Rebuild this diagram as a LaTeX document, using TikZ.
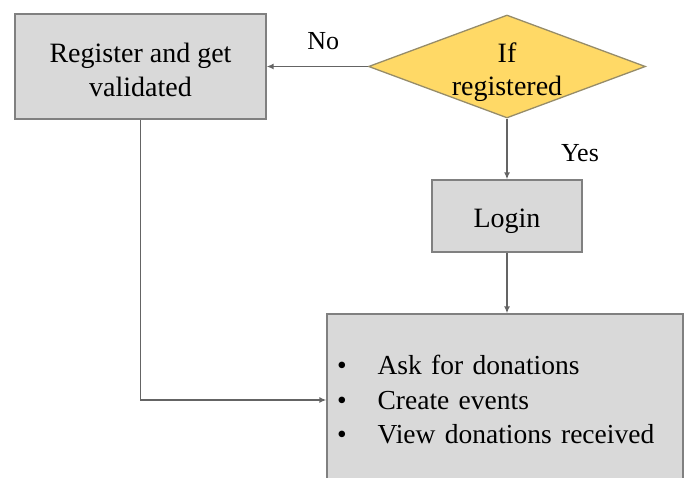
\documentclass[tikz,border=0pt]{standalone}
\usepackage{fontspec}
\setmainfont{Liberation Serif}
\usetikzlibrary{shapes.geometric,arrows.meta}
\definecolor{boxgray}{RGB}{217,217,217}
\definecolor{edgegray}{RGB}{128,128,128}
\definecolor{decyellow}{RGB}{255,217,102}
\definecolor{decedge}{RGB}{150,140,105}
\definecolor{linegray}{RGB}{100,100,100}
\begin{document}
\begin{tikzpicture}[x=1pt,y=-1pt,
    box/.style={draw=edgegray,line width=1.3pt,fill=boxgray,inner sep=0pt,font=\fontsize{28}{34}\selectfont},
    decision/.style={diamond,aspect=2.69,draw=decedge,line width=1.3pt,fill=decyellow,inner xsep=0pt,inner ysep=-7pt,align=center,font=\fontsize{28}{33}\selectfont},
    flow/.style={draw=linegray,line width=1.4pt,-{Latex[length=7pt,width=6pt]}},
    lbl/.style={font=\fontsize{26}{30}\selectfont}]
      \useasboundingbox (0,0) rectangle (689,478);
      \node[box,minimum width=251pt,minimum height=105pt,align=center] (reg) at (140.5,66.5) {\rule{0pt}{26pt}Register and get\\validated};
      \node[decision,minimum width=277pt,minimum height=103pt] (dec) at (507,66.5) {\rule{0pt}{32pt}If\\registered};
      \node[box,minimum width=150pt,minimum height=72pt] (login) at (507,216) {\rule{0pt}{28.5pt}Login};
      \node[box,minimum width=356pt,minimum height=172pt,inner xsep=10pt,text width=336pt,align=left] (tasks) at (505,400)
        {\fontsize{27.5}{34.5}\selectfont
         \begin{tabular}{@{}l@{\hspace{31pt}}l@{}}
           \rule{0pt}{29pt}\textbullet & Ask for donations\\
           \textbullet & Create events\\
           \textbullet & View donations received
         \end{tabular}};
      \draw[flow] (dec.west) -- (reg.east) node[lbl,pos=0.44,above=13pt] {No};
      \draw[flow] (dec.south) -- (login.north) node[lbl,midway,right=50pt,yshift=-4pt] {Yes};
      \draw[flow] (login.south) -- (login.south |- tasks.north);
      \draw[flow] (reg.south) |- (tasks.west);
\end{tikzpicture}
\end{document}
